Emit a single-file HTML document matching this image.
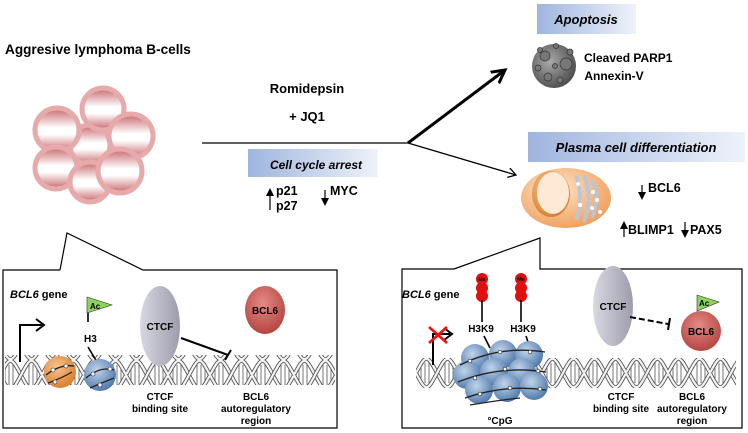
<!DOCTYPE html>
<html><head><meta charset="utf-8"><style>
html,body{margin:0;padding:0;background:#fff;}
svg{display:block;font-family:"Liberation Sans",Arial,sans-serif;font-weight:bold;}
</style></head><body>
<svg width="748" height="433" viewBox="0 0 748 433" xmlns="http://www.w3.org/2000/svg">
<defs>
<linearGradient id="bl" x1="0" y1="0" x2="1" y2="0"><stop offset="0" stop-color="#9fb5de"/><stop offset="1" stop-color="#eef2fa"/></linearGradient>
<linearGradient id="cellg" x1="0" y1="0" x2="0" y2="1"><stop offset="0" stop-color="#c8666a"/><stop offset="0.45" stop-color="#fff"/><stop offset="0.6" stop-color="#fff"/><stop offset="1" stop-color="#c8666a"/></linearGradient>
<radialGradient id="gray" cx="0.4" cy="0.4" r="0.7"><stop offset="0" stop-color="#aaa"/><stop offset="1" stop-color="#444"/></radialGradient>
<radialGradient id="orng" cx="0.4" cy="0.35" r="0.7"><stop offset="0" stop-color="#fde4c8"/><stop offset="1" stop-color="#ef9e5a"/></radialGradient>
<radialGradient id="orn2" cx="0.4" cy="0.35" r="0.7"><stop offset="0" stop-color="#f8c58f"/><stop offset="1" stop-color="#d97a2a"/></radialGradient>
<radialGradient id="blu" cx="0.4" cy="0.35" r="0.7"><stop offset="0" stop-color="#c0d4ea"/><stop offset="1" stop-color="#4a74a8"/></radialGradient>
<radialGradient id="red" cx="0.45" cy="0.35" r="0.7"><stop offset="0" stop-color="#e48a86"/><stop offset="1" stop-color="#b2403c"/></radialGradient>
<linearGradient id="ctcf" x1="0" y1="0" x2="1" y2="0"><stop offset="0" stop-color="#d8d8e2"/><stop offset="1" stop-color="#9c9cac"/></linearGradient>
<pattern id="dna" patternUnits="userSpaceOnUse" width="42" height="30" x="0" y="0">
<g stroke="#666" stroke-width="0.9">
<line x1="5" y1="8" x2="5" y2="22"/><line x1="9" y1="5" x2="9" y2="25"/><line x1="13" y1="4" x2="13" y2="26"/><line x1="29" y1="4" x2="29" y2="26"/><line x1="33" y1="5" x2="33" y2="25"/><line x1="37" y1="8" x2="37" y2="22"/>
</g>
<path d="M0 15 C10 -4 11 -4 21 15 S32 34 42 15" fill="none" stroke="#555" stroke-width="4"/>
<path d="M0 15 C10 -4 11 -4 21 15 S32 34 42 15" fill="none" stroke="#f4f4f4" stroke-width="2.2"/>
<path d="M0 15 C10 34 11 34 21 15 S32 -4 42 15" fill="none" stroke="#555" stroke-width="4"/>
<path d="M0 15 C10 34 11 34 21 15 S32 -4 42 15" fill="none" stroke="#f4f4f4" stroke-width="2.2"/>
</pattern>
<pattern id="dna2" href="#dna" x="416" y="358"/>
<marker id="ah" markerWidth="10" markerHeight="10" refX="8" refY="5" orient="auto" markerUnits="userSpaceOnUse"><path d="M0 0 L8 5 L0 10" fill="none" stroke="#000" stroke-width="1.3"/></marker>
<marker id="ah2" markerWidth="16" markerHeight="16" refX="13" refY="8" orient="auto" markerUnits="userSpaceOnUse"><path d="M0 1 L13 8 L0 15" fill="none" stroke="#000" stroke-width="3"/></marker>
</defs>

<text x="5" y="54" font-size="13.6">Aggresive lymphoma B-cells</text>
<g stroke="#e6aaaa" stroke-width="5" fill="url(#cellg)">
<circle cx="90" cy="145" r="20"/>
<circle cx="103" cy="109" r="21"/>
<circle cx="57" cy="130" r="22"/>
<circle cx="131" cy="136" r="22"/>
<circle cx="56" cy="168" r="21"/>
<circle cx="90" cy="182" r="20"/>
<circle cx="120" cy="171" r="22"/>
</g>
<text x="307" y="93" font-size="13" text-anchor="middle">Romidepsin</text>
<text x="307" y="121" font-size="13" text-anchor="middle">+ JQ1</text>
<line x1="202" y1="143" x2="408" y2="143" stroke="#000" stroke-width="1.3"/>
<line x1="408" y1="143" x2="505" y2="70" stroke="#000" stroke-width="3" marker-end="url(#ah2)"/>
<line x1="408" y1="143" x2="516" y2="175" stroke="#000" stroke-width="1.3" marker-end="url(#ah)"/>
<rect x="248" y="149" width="130" height="28" fill="url(#bl)"/>
<text x="316" y="169" font-size="12" font-style="italic" text-anchor="middle">Cell cycle arrest</text>
<g font-size="12.5">
<line x1="270" y1="210" x2="270" y2="195" stroke="#000" stroke-width="1.2"/><path d="M266 196 L270 188 L274 196Z"/>
<text x="276" y="195">p21</text><text x="276" y="210">p27</text>
<line x1="325" y1="190" x2="325" y2="199" stroke="#000" stroke-width="1.2"/><path d="M321 198 L325 206 L329 198Z"/>
<text x="330" y="195">MYC</text>
</g>

<rect x="537" y="4" width="99" height="30" fill="url(#bl)"/>
<text x="586" y="24" font-size="13" font-style="italic" text-anchor="middle">Apoptosis</text>
<circle cx="554" cy="66" r="22" fill="url(#gray)"/>
<g fill="#777" stroke="#333" stroke-width="0.7">
<circle cx="545" cy="56" r="5"/><circle cx="566" cy="64" r="6"/><circle cx="548" cy="77" r="4"/><circle cx="560" cy="80" r="3"/><circle cx="538" cy="68" r="3"/><circle cx="555" cy="66" r="2.5"/><circle cx="570" cy="52" r="3"/><circle cx="556" cy="46" r="2.5"/><circle cx="540" cy="50" r="2.5"/>
</g>
<text x="584" y="62" font-size="12">Cleaved PARP1</text>
<text x="614" y="80" font-size="12" text-anchor="middle">Annexin-V</text>

<rect x="528" y="132" width="217" height="30" fill="url(#bl)"/>
<text x="636" y="152" font-size="13" font-style="italic" text-anchor="middle">Plasma cell differentiation</text>
<ellipse cx="566" cy="198" rx="45" ry="30" fill="url(#orng)"/>
<ellipse cx="551" cy="194" rx="19" ry="23" fill="url(#orn2)"/>
<ellipse cx="553" cy="193" rx="16" ry="21" fill="#fde9d6"/>
<g fill="none" stroke="#b6c6de" stroke-width="3.5">
<path d="M576 176 Q584 198 576 220"/><path d="M584 176 Q593 198 584 222"/><path d="M592 180 Q600 198 592 218"/>
</g>
<g fill="#fff"><circle cx="578" cy="184" r="2"/><circle cx="593" cy="192" r="2"/><circle cx="597" cy="200" r="2"/><circle cx="580" cy="205" r="2"/><circle cx="592" cy="208" r="2"/><circle cx="600" cy="212" r="2"/></g>
<g font-size="12.5">
<line x1="642" y1="185" x2="642" y2="193" stroke="#000" stroke-width="1.2"/><path d="M638 192 L642 200 L646 192Z"/>
<text x="648" y="192">BCL6</text>
<line x1="624" y1="237" x2="624" y2="228" stroke="#000" stroke-width="1.2"/><path d="M620 229 L624 221 L628 229Z"/>
<text x="628" y="234">BLIMP1</text>
<line x1="685" y1="222" x2="685" y2="231" stroke="#000" stroke-width="1.2"/><path d="M681 230 L685 238 L689 230Z"/>
<text x="690" y="234">PAX5</text>
</g>

<path d="M60 270 L3 270 L3 428 L337 428 L337 270 L143 270 L67 233 L60 270" fill="none" stroke="#000" stroke-width="1.2"/>
<rect x="5" y="355" width="330" height="30" fill="url(#dna)"/>
<text x="10" y="298" font-size="11"><tspan font-style="italic">BCL6</tspan> gene</text>
<path d="M20 362 L20 325 L42 325" fill="none" stroke="#000" stroke-width="2"/><path d="M36 319 L44 325 L36 331" fill="none" stroke="#000" stroke-width="2"/>
<line x1="88" y1="300" x2="88" y2="322" stroke="#000" stroke-width="1.6"/>
<path d="M87 297 L112 305 L87 313Z" fill="#8cd35a" stroke="#333" stroke-width="0.6"/>
<text x="90" y="309" font-size="8">Ac</text>
<text x="84" y="342" font-size="10">H3</text>
<line x1="88" y1="347" x2="97" y2="362" stroke="#000" stroke-width="1.6"/>
<circle cx="60" cy="372" r="16" fill="url(#orn2)"/>
<circle cx="100" cy="375" r="16" fill="url(#blu)"/>
<g fill="none" stroke="#222" stroke-width="1.3"><path d="M46 375 Q60 364 74 366"/><path d="M48 383 Q62 378 72 372"/><path d="M86 378 Q100 366 114 370"/><path d="M90 388 Q104 382 114 378"/></g>
<g fill="#fff" stroke="#222" stroke-width="0.6"><circle cx="53" cy="370" r="2"/><circle cx="66" cy="366" r="2"/><circle cx="55" cy="382" r="2"/><circle cx="93" cy="374" r="2"/><circle cx="110" cy="369" r="2"/><circle cx="100" cy="385" r="2"/></g>
<ellipse cx="160" cy="326" rx="20" ry="40" fill="url(#ctcf)"/>
<text x="160" y="330" font-size="10" text-anchor="middle">CTCF</text>
<line x1="181" y1="338" x2="228" y2="355" stroke="#000" stroke-width="2"/>
<line x1="225" y1="360" x2="231" y2="350" stroke="#000" stroke-width="2"/>
<ellipse cx="265" cy="310" rx="20" ry="24" fill="url(#red)"/>
<text x="265" y="314" font-size="10" text-anchor="middle">BCL6</text>
<g font-size="10" text-anchor="middle">
<text x="160" y="400">CTCF</text><text x="160" y="412">binding site</text>
<text x="256" y="400">BCL6</text><text x="256" y="412">autoregulatory</text><text x="256" y="424">region</text>
</g>

<path d="M454 269 L402 269 L402 428 L742 428 L742 269 L540 269 L540 238 L454 269" fill="none" stroke="#000" stroke-width="1.2"/>
<rect x="416" y="358" width="320" height="30" fill="url(#dna2)"/>
<text x="402" y="298" font-size="11"><tspan font-style="italic">BCL6</tspan> gene</text>
<path d="M433 365 L433 334 L450 334" fill="none" stroke="#000" stroke-width="2"/><path d="M444 328 L452 334 L444 340" fill="none" stroke="#000" stroke-width="2"/>
<path d="M429 327 L447 343 M447 327 L429 343" stroke="#e11" stroke-width="2.6"/>
<g fill="#e01010">
<circle cx="482" cy="279" r="6"/><circle cx="482" cy="288" r="6"/><circle cx="482" cy="296" r="6"/>
<circle cx="521" cy="279" r="6"/><circle cx="521" cy="288" r="6"/><circle cx="521" cy="296" r="6"/>
</g>
<text x="482" y="281" font-size="5" text-anchor="middle">Me</text><text x="521" y="281" font-size="5" text-anchor="middle">Me</text>
<line x1="482" y1="300" x2="482" y2="322" stroke="#000" stroke-width="1.6"/><line x1="521" y1="300" x2="521" y2="322" stroke="#000" stroke-width="1.6"/>
<text x="481" y="332" font-size="10" text-anchor="middle">H3K9</text><text x="523" y="332" font-size="10" text-anchor="middle">H3K9</text>
<line x1="484" y1="336" x2="490" y2="348" stroke="#000" stroke-width="1.6"/><line x1="526" y1="336" x2="530" y2="348" stroke="#000" stroke-width="1.6"/>
<g>
<circle cx="475" cy="358" r="14" fill="url(#blu)"/><circle cx="503" cy="354" r="14" fill="url(#blu)"/><circle cx="529" cy="355" r="14" fill="url(#blu)"/>
<circle cx="467" cy="375" r="14" fill="url(#blu)"/><circle cx="494" cy="372" r="14" fill="url(#blu)"/><circle cx="522" cy="372" r="14" fill="url(#blu)"/>
<circle cx="479" cy="390" r="14" fill="url(#blu)"/><circle cx="507" cy="388" r="14" fill="url(#blu)"/><circle cx="534" cy="386" r="14" fill="url(#blu)"/>
</g>
<g fill="none" stroke="#222" stroke-width="1.3"><path d="M460 365 Q500 345 545 352"/><path d="M458 382 Q500 365 546 372"/><path d="M465 398 Q505 384 546 390"/><path d="M470 405 Q500 400 520 398"/></g>
<g fill="#fff" stroke="#222" stroke-width="0.6"><circle cx="470" cy="361" r="1.8"/><circle cx="500" cy="352" r="1.8"/><circle cx="530" cy="352" r="1.8"/><circle cx="475" cy="378" r="1.8"/><circle cx="505" cy="369" r="1.8"/><circle cx="538" cy="371" r="1.8"/><circle cx="480" cy="394" r="1.8"/><circle cx="510" cy="388" r="1.8"/><circle cx="540" cy="389" r="1.8"/></g>
<text x="500" y="424" font-size="10" text-anchor="middle">°CpG</text>
<ellipse cx="613" cy="306" rx="20" ry="40" fill="url(#ctcf)"/>
<text x="613" y="310" font-size="10" text-anchor="middle">CTCF</text>
<line x1="630" y1="317" x2="668" y2="324" stroke="#000" stroke-width="2" stroke-dasharray="6,3"/>
<line x1="670" y1="318" x2="668" y2="330" stroke="#000" stroke-width="2"/>
<circle cx="701" cy="331" r="20" fill="url(#red)"/>
<text x="701" y="335" font-size="10" text-anchor="middle">BCL6</text>
<path d="M697 295 L719 302 L697 311Z" fill="#8cd35a" stroke="#333" stroke-width="0.6"/>
<text x="699" y="306" font-size="8">Ac</text>
<g font-size="10" text-anchor="middle">
<text x="621" y="400">CTCF</text><text x="621" y="412">binding site</text>
<text x="692" y="400">BCL6</text><text x="692" y="412">autoregulatory</text><text x="692" y="424">region</text>
</g>
</svg>
</body></html>
